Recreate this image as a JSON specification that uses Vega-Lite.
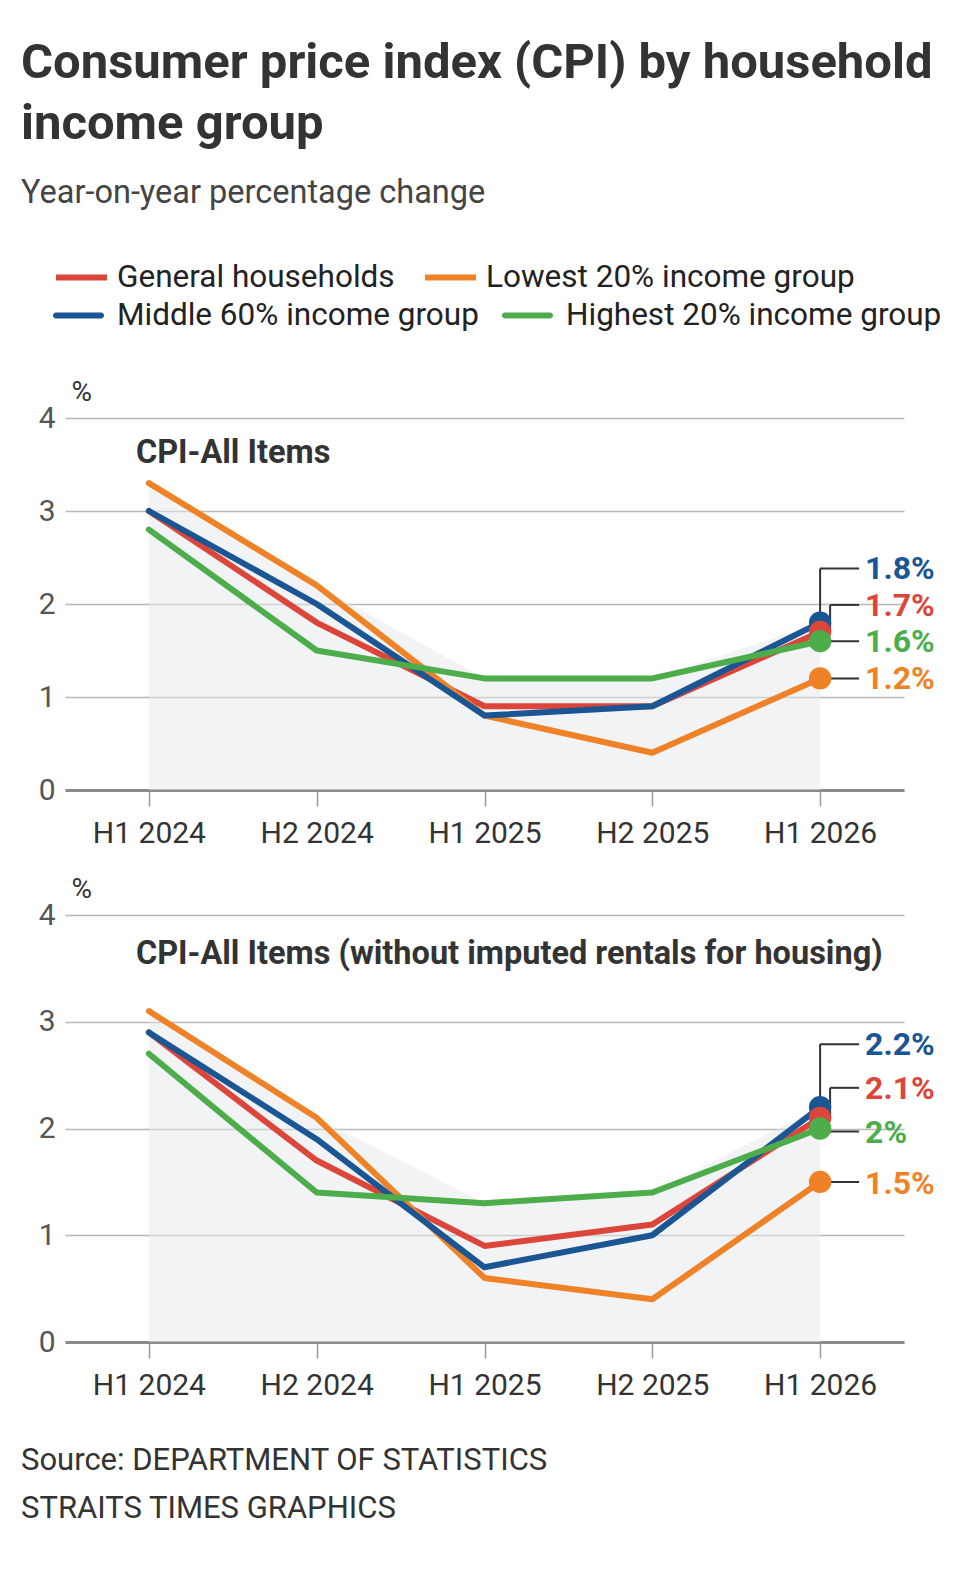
{
  "$schema": "https://vega.github.io/schema/vega-lite/v6.json",
  "padding": {"left": 21, "top": 38, "right": 10, "bottom": 60},
  "background": "white",
  "title": {
    "text": ["Consumer price index (CPI) by household", "income group"],
    "subtitle": "Year-on-year percentage change",
    "anchor": "start",
    "frame": "group",
    "dx": -44,
    "fontSize": 49,
    "fontWeight": "bold",
    "color": "#333333",
    "lineHeight": 61,
    "subtitleFontSize": 32.5,
    "subtitleFontWeight": "normal",
    "subtitleColor": "#444444",
    "subtitlePadding": 28,
    "offset": 40
  },
  "datasets": {
    "all": [
      {"period": "H1 2024", "series": "General households", "value": 3.0},
      {"period": "H2 2024", "series": "General households", "value": 1.8},
      {"period": "H1 2025", "series": "General households", "value": 0.9},
      {"period": "H2 2025", "series": "General households", "value": 0.9},
      {"period": "H1 2026", "series": "General households", "value": 1.7},
      {"period": "H1 2024", "series": "Lowest 20% income group", "value": 3.3},
      {"period": "H2 2024", "series": "Lowest 20% income group", "value": 2.2},
      {"period": "H1 2025", "series": "Lowest 20% income group", "value": 0.8},
      {"period": "H2 2025", "series": "Lowest 20% income group", "value": 0.4},
      {"period": "H1 2026", "series": "Lowest 20% income group", "value": 1.2},
      {"period": "H1 2024", "series": "Middle 60% income group", "value": 3.0},
      {"period": "H2 2024", "series": "Middle 60% income group", "value": 2.0},
      {"period": "H1 2025", "series": "Middle 60% income group", "value": 0.8},
      {"period": "H2 2025", "series": "Middle 60% income group", "value": 0.9},
      {"period": "H1 2026", "series": "Middle 60% income group", "value": 1.8},
      {"period": "H1 2024", "series": "Highest 20% income group", "value": 2.8},
      {"period": "H2 2024", "series": "Highest 20% income group", "value": 1.5},
      {"period": "H1 2025", "series": "Highest 20% income group", "value": 1.2},
      {"period": "H2 2025", "series": "Highest 20% income group", "value": 1.2},
      {"period": "H1 2026", "series": "Highest 20% income group", "value": 1.6}
    ],
    "exrent": [
      {"period": "H1 2024", "series": "General households", "value": 2.9},
      {"period": "H2 2024", "series": "General households", "value": 1.7},
      {"period": "H1 2025", "series": "General households", "value": 0.9},
      {"period": "H2 2025", "series": "General households", "value": 1.1},
      {"period": "H1 2026", "series": "General households", "value": 2.1},
      {"period": "H1 2024", "series": "Lowest 20% income group", "value": 3.1},
      {"period": "H2 2024", "series": "Lowest 20% income group", "value": 2.1},
      {"period": "H1 2025", "series": "Lowest 20% income group", "value": 0.6},
      {"period": "H2 2025", "series": "Lowest 20% income group", "value": 0.4},
      {"period": "H1 2026", "series": "Lowest 20% income group", "value": 1.5},
      {"period": "H1 2024", "series": "Middle 60% income group", "value": 2.9},
      {"period": "H2 2024", "series": "Middle 60% income group", "value": 1.9},
      {"period": "H1 2025", "series": "Middle 60% income group", "value": 0.7},
      {"period": "H2 2025", "series": "Middle 60% income group", "value": 1.0},
      {"period": "H1 2026", "series": "Middle 60% income group", "value": 2.2},
      {"period": "H1 2024", "series": "Highest 20% income group", "value": 2.7},
      {"period": "H2 2024", "series": "Highest 20% income group", "value": 1.4},
      {"period": "H1 2025", "series": "Highest 20% income group", "value": 1.3},
      {"period": "H2 2025", "series": "Highest 20% income group", "value": 1.4},
      {"period": "H1 2026", "series": "Highest 20% income group", "value": 2.0}
    ]
  },
  "bounds": "flush",
  "spacing": 125,
  "resolve": {"scale": {"color": "shared", "fill": "shared"}, "legend": {"color": "shared", "fill": "shared"}},
  "vconcat": [
    {
      "width": 839,
      "height": 372,
      "data": {"name": "all"},
      "encoding": {
        "x": {"field": "period", "type": "ordinal", "sort": ["H1 2024", "H2 2024", "H1 2025", "H2 2025", "H1 2026"], "scale": {"type": "point", "padding": 0.5}, "axis": {"title": null}},
        "y": {"field": "value", "type": "quantitative", "scale": {"domain": [0, 4], "nice": false}, "axis": {"title": "%", "values": [0, 1, 2, 3, 4]}}
      },
      "layer": [
        {
          "mark": {"type": "area", "color": "#e4e8ec", "opacity": 0.5},
          "encoding": {"y": {"aggregate": "max", "field": "value", "type": "quantitative", "scale": {"domain": [0, 4], "nice": false}, "axis": {"title": "%", "values": [0, 1, 2, 3, 4]}}}
        },
        {
          "mark": {"type": "line", "strokeWidth": 6, "strokeJoin": "round", "strokeCap": "round"},
          "encoding": {
            "color": {
              "field": "series", "type": "nominal",
              "scale": {"domain": ["General households", "Lowest 20% income group", "Middle 60% income group", "Highest 20% income group"], "range": ["#dc463a", "#ef8227", "#1a5594", "#4cad4a"]},
              "legend": {"orient": "none", "legendX": -12, "legendY": -169, "direction": "horizontal", "values": ["General households", "Lowest 20% income group"], "symbolType": "stroke", "symbolSize": 2601, "symbolStrokeWidth": 6, "labelFontSize": 31.5, "labelColor": "#222222", "labelOffset": 7, "columnPadding": 18, "title": null, "labelLimit": 0, "padding": 0}
            }
          }
        },
        {
          "transform": [{"filter": "datum.period === 'H1 2026' && datum.series === 'Middle 60% income group'"}],
          "mark": {"type": "rule", "color": "#333333", "strokeWidth": 2, "y2Offset": -54},
          "encoding": {"y2": {"field": "value"}}
        },
        {
          "transform": [{"filter": "datum.period === 'H1 2026' && datum.series === 'Middle 60% income group'"}],
          "mark": {"type": "rule", "color": "#333333", "strokeWidth": 2, "yOffset": -54, "x2Offset": 39},
          "encoding": {"x2": {"datum": "H1 2026"}}
        },
        {
          "transform": [{"filter": "datum.period === 'H1 2026' && datum.series === 'General households'"}],
          "mark": {"type": "rule", "color": "#333333", "strokeWidth": 2, "xOffset": 10, "y2Offset": -27},
          "encoding": {"y2": {"field": "value"}}
        },
        {
          "transform": [{"filter": "datum.period === 'H1 2026' && datum.series === 'General households'"}],
          "mark": {"type": "rule", "color": "#333333", "strokeWidth": 2, "xOffset": 10, "yOffset": -27, "x2Offset": 39},
          "encoding": {"x2": {"datum": "H1 2026"}}
        },
        {
          "transform": [{"filter": "datum.period === 'H1 2026' && (datum.series === 'Highest 20% income group' || datum.series === 'Lowest 20% income group')"}],
          "mark": {"type": "rule", "color": "#333333", "strokeWidth": 2, "x2Offset": 39},
          "encoding": {"x2": {"datum": "H1 2026"}}
        },
        {
          "transform": [{"filter": "datum.period === 'H1 2026'"}],
          "mark": {"type": "circle", "size": 500, "opacity": 1},
          "encoding": {
            "fill": {
              "field": "series", "type": "nominal",
              "scale": {"domain": ["Middle 60% income group", "Highest 20% income group", "General households", "Lowest 20% income group"], "range": ["#1a5594", "#4cad4a", "#dc463a", "#ef8227"]},
              "legend": {"orient": "none", "legendX": -12, "legendY": -128, "direction": "horizontal", "values": ["Middle 60% income group", "Highest 20% income group"], "symbolType": "M-0.882,-0.1176L0.882,-0.1176A0.1176,0.1176,0,0,1,0.882,0.1176L-0.882,0.1176A0.1176,0.1176,0,0,1,-0.882,-0.1176Z", "symbolSize": 2601, "symbolStrokeWidth": 0, "symbolOpacity": 1, "labelFontSize": 31.5, "labelColor": "#222222", "labelOffset": 13, "columnPadding": 23, "title": null, "labelLimit": 0, "padding": 0}
            },
            "order": {"field": "value", "type": "quantitative", "sort": "descending"}
          }
        },
        {
          "transform": [{"filter": "datum.period === 'H1 2026' && datum.series === 'Middle 60% income group'"}],
          "mark": {"type": "text", "align": "left", "baseline": "middle", "dx": 45, "dy": -54, "fontSize": 32, "fontWeight": "bold", "color": "#1a5594"},
          "encoding": {"text": {"field": "value", "format": "$.1~f"}}
        },
        {
          "transform": [{"filter": "datum.period === 'H1 2026' && datum.series === 'General households'"}],
          "mark": {"type": "text", "align": "left", "baseline": "middle", "dx": 45, "dy": -26, "fontSize": 32, "fontWeight": "bold", "color": "#dc463a"},
          "encoding": {"text": {"field": "value", "format": "$.1~f"}}
        },
        {
          "transform": [{"filter": "datum.period === 'H1 2026' && datum.series === 'Highest 20% income group'"}],
          "mark": {"type": "text", "align": "left", "baseline": "middle", "dx": 45, "dy": 1, "fontSize": 32, "fontWeight": "bold", "color": "#4cad4a"},
          "encoding": {"text": {"field": "value", "format": "$.1~f"}}
        },
        {
          "transform": [{"filter": "datum.period === 'H1 2026' && datum.series === 'Lowest 20% income group'"}],
          "mark": {"type": "text", "align": "left", "baseline": "middle", "dx": 45, "dy": 1, "fontSize": 32, "fontWeight": "bold", "color": "#ef8227"},
          "encoding": {"text": {"field": "value", "format": "$.1~f"}}
        },
        {
          "transform": [{"filter": "datum.period === 'H1 2024' && datum.series === 'General households'"}],
          "mark": {"type": "text", "text": "CPI-All Items", "align": "left", "baseline": "middle", "dx": -13, "fontSize": 32.5, "fontWeight": "bold", "color": "#333333"},
          "encoding": {"y": {"datum": 3.62}}
        }
      ]
    },
    {
      "width": 839,
      "height": 427,
      "data": {"name": "exrent"},
      "title": {
        "text": ["Source: DEPARTMENT OF STATISTICS", "STRAITS TIMES GRAPHICS"],
        "orient": "bottom",
        "anchor": "start",
        "frame": "group",
        "dx": -44,
        "fontSize": 31,
        "fontWeight": "normal",
        "color": "#333333",
        "lineHeight": 48,
        "offset": 46
      },
      "encoding": {
        "x": {"field": "period", "type": "ordinal", "sort": ["H1 2024", "H2 2024", "H1 2025", "H2 2025", "H1 2026"], "scale": {"type": "point", "padding": 0.5}, "axis": {"title": null}},
        "y": {"field": "value", "type": "quantitative", "scale": {"domain": [0, 4], "nice": false}, "axis": {"title": "%", "values": [0, 1, 2, 3, 4]}}
      },
      "layer": [
        {
          "mark": {"type": "area", "color": "#e4e8ec", "opacity": 0.5},
          "encoding": {"y": {"aggregate": "max", "field": "value", "type": "quantitative", "scale": {"domain": [0, 4], "nice": false}, "axis": {"title": "%", "values": [0, 1, 2, 3, 4]}}}
        },
        {
          "mark": {"type": "line", "strokeWidth": 6, "strokeJoin": "round", "strokeCap": "round"},
          "encoding": {
            "color": {
              "field": "series", "type": "nominal",
              "scale": {"domain": ["General households", "Lowest 20% income group", "Middle 60% income group", "Highest 20% income group"], "range": ["#dc463a", "#ef8227", "#1a5594", "#4cad4a"]},
              "legend": {"orient": "none", "legendX": -12, "legendY": -169, "direction": "horizontal", "values": ["General households", "Lowest 20% income group"], "symbolType": "stroke", "symbolSize": 2601, "symbolStrokeWidth": 6, "labelFontSize": 31.5, "labelColor": "#222222", "labelOffset": 7, "columnPadding": 18, "title": null, "labelLimit": 0, "padding": 0}
            }
          }
        },
        {
          "transform": [{"filter": "datum.period === 'H1 2026' && datum.series === 'Middle 60% income group'"}],
          "mark": {"type": "rule", "color": "#333333", "strokeWidth": 2, "y2Offset": -63},
          "encoding": {"y2": {"field": "value"}}
        },
        {
          "transform": [{"filter": "datum.period === 'H1 2026' && datum.series === 'Middle 60% income group'"}],
          "mark": {"type": "rule", "color": "#333333", "strokeWidth": 2, "yOffset": -63, "x2Offset": 39},
          "encoding": {"x2": {"datum": "H1 2026"}}
        },
        {
          "transform": [{"filter": "datum.period === 'H1 2026' && datum.series === 'General households'"}],
          "mark": {"type": "rule", "color": "#333333", "strokeWidth": 2, "xOffset": 10, "y2Offset": -30},
          "encoding": {"y2": {"field": "value"}}
        },
        {
          "transform": [{"filter": "datum.period === 'H1 2026' && datum.series === 'General households'"}],
          "mark": {"type": "rule", "color": "#333333", "strokeWidth": 2, "xOffset": 10, "yOffset": -30, "x2Offset": 39},
          "encoding": {"x2": {"datum": "H1 2026"}}
        },
        {
          "transform": [{"filter": "datum.period === 'H1 2026' && datum.series === 'Highest 20% income group'"}],
          "mark": {"type": "rule", "color": "#333333", "strokeWidth": 2, "yOffset": 3, "x2Offset": 39},
          "encoding": {"x2": {"datum": "H1 2026"}}
        },
        {
          "transform": [{"filter": "datum.period === 'H1 2026' && datum.series === 'Lowest 20% income group'"}],
          "mark": {"type": "rule", "color": "#333333", "strokeWidth": 2, "x2Offset": 39},
          "encoding": {"x2": {"datum": "H1 2026"}}
        },
        {
          "transform": [{"filter": "datum.period === 'H1 2026'"}],
          "mark": {"type": "circle", "size": 500, "opacity": 1},
          "encoding": {
            "fill": {
              "field": "series", "type": "nominal",
              "scale": {"domain": ["Middle 60% income group", "Highest 20% income group", "General households", "Lowest 20% income group"], "range": ["#1a5594", "#4cad4a", "#dc463a", "#ef8227"]},
              "legend": {"orient": "none", "legendX": -12, "legendY": -128, "direction": "horizontal", "values": ["Middle 60% income group", "Highest 20% income group"], "symbolType": "M-0.882,-0.1176L0.882,-0.1176A0.1176,0.1176,0,0,1,0.882,0.1176L-0.882,0.1176A0.1176,0.1176,0,0,1,-0.882,-0.1176Z", "symbolSize": 2601, "symbolStrokeWidth": 0, "symbolOpacity": 1, "labelFontSize": 31.5, "labelColor": "#222222", "labelOffset": 13, "columnPadding": 23, "title": null, "labelLimit": 0, "padding": 0}
            },
            "order": {"field": "value", "type": "quantitative", "sort": "descending"}
          }
        },
        {
          "transform": [{"filter": "datum.period === 'H1 2026' && datum.series === 'Middle 60% income group'"}],
          "mark": {"type": "text", "align": "left", "baseline": "middle", "dx": 45, "dy": -62, "fontSize": 32, "fontWeight": "bold", "color": "#1a5594"},
          "encoding": {"text": {"field": "value", "format": "$.1~f"}}
        },
        {
          "transform": [{"filter": "datum.period === 'H1 2026' && datum.series === 'General households'"}],
          "mark": {"type": "text", "align": "left", "baseline": "middle", "dx": 45, "dy": -29, "fontSize": 32, "fontWeight": "bold", "color": "#dc463a"},
          "encoding": {"text": {"field": "value", "format": "$.1~f"}}
        },
        {
          "transform": [{"filter": "datum.period === 'H1 2026' && datum.series === 'Highest 20% income group'"}],
          "mark": {"type": "text", "align": "left", "baseline": "middle", "dx": 45, "dy": 4, "fontSize": 32, "fontWeight": "bold", "color": "#4cad4a"},
          "encoding": {"text": {"field": "value", "format": "$.1~f"}}
        },
        {
          "transform": [{"filter": "datum.period === 'H1 2026' && datum.series === 'Lowest 20% income group'"}],
          "mark": {"type": "text", "align": "left", "baseline": "middle", "dx": 45, "dy": 2, "fontSize": 32, "fontWeight": "bold", "color": "#ef8227"},
          "encoding": {"text": {"field": "value", "format": "$.1~f"}}
        },
        {
          "transform": [{"filter": "datum.period === 'H1 2024' && datum.series === 'General households'"}],
          "mark": {"type": "text", "text": "CPI-All Items (without imputed rentals for housing)", "align": "left", "baseline": "middle", "dx": -13, "fontSize": 32.5, "fontWeight": "bold", "color": "#333333"},
          "encoding": {"y": {"datum": 3.63}}
        }
      ]
    }
  ],
  "config": {
    "font": "Roboto",
    "view": {"stroke": null},
    "locale": {"number": {"decimal": ".", "thousands": ",", "grouping": [3], "currency": ["", "%"]}},
    "axisX": {
      "labelAngle": 0, "grid": false, "tickSize": 16, "tickColor": "#9a9a9a", "tickWidth": 1.5,
      "domainColor": "#8a8a8a", "domainWidth": 3, "labelFontSize": 30, "labelColor": "#333333", "labelPadding": 12
    },
    "axisY": {
      "grid": true, "gridColor": "#b8b8b8", "gridWidth": 1.5, "domain": false, "ticks": false,
      "labelFontSize": 30, "labelColor": "#555555", "labelPadding": 10,
      "titleAngle": 0, "titleAlign": "left", "titleBaseline": "middle", "titleX": 6, "titleY": -26,
      "titleFontSize": 28, "titleFontWeight": "normal", "titleColor": "#333333"
    }
  }
}
